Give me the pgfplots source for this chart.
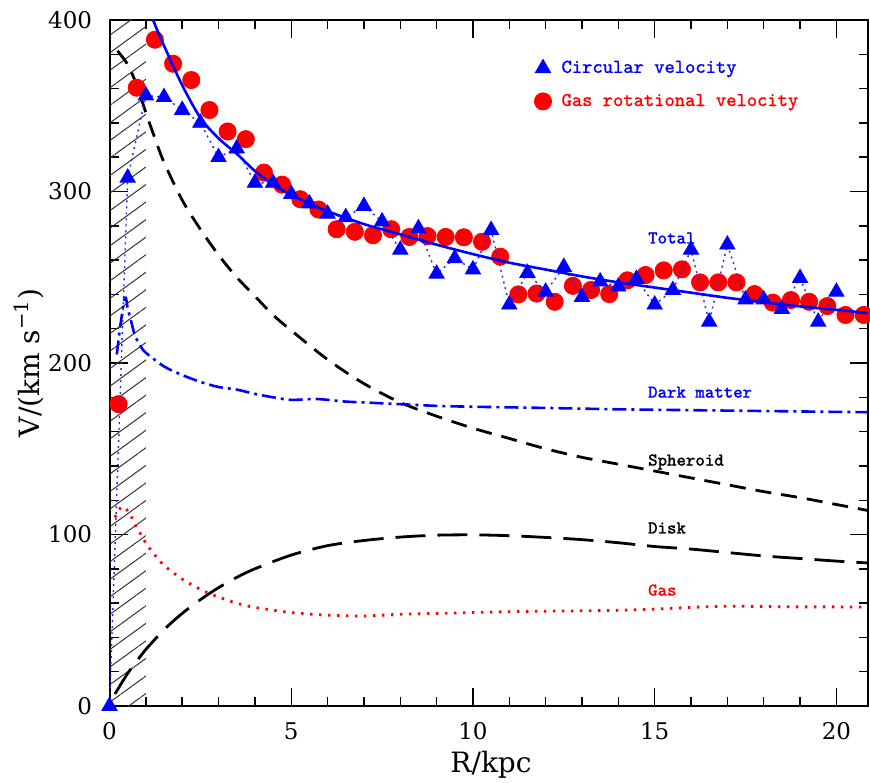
\documentclass[border=0pt]{standalone}
\usepackage{fontspec}
\setmainfont{DejaVu Serif}
\newfontfamily\lblfont{Latin Modern Mono}[FakeBold=1.2]
\usepackage{pgfplots}
\pgfplotsset{compat=1.18}
\usetikzlibrary{patterns.meta}
\definecolor{vblue}{RGB}{0,0,255}
\definecolor{vred}{RGB}{255,0,0}

\pgfplotstableread{
R V
0 0
0.5 308
1.0 356
1.5 355
2.0 347.5
2.5 340
3.0 320
3.5 325
4.0 305
4.5 305
5.0 298.5
5.5 293
6.0 287
6.5 285
7.0 291.5
7.5 282.5
8.0 266
8.5 278.5
9.0 252
9.5 261
10.0 254.5
10.5 277.5
11.0 234
11.5 252.5
12.0 241.5
12.5 256
13.0 238.5
13.5 247.5
14.0 244.5
14.5 249
15.0 234
15.5 242.5
16.0 266
16.5 224
17.0 269
17.5 237
18.0 237
18.5 231.5
19.0 249.5
19.5 224
20.0 241.5
}\circvel

\pgfplotstableread{
R V
0.25 176
0.75 360.5
1.25 388.5
1.75 374.5
2.25 365
2.75 347.5
3.25 335
3.75 330.5
4.25 311
4.75 304
5.25 295.5
5.75 289.5
6.25 278
6.75 276.5
7.25 274.5
7.75 278
8.25 273.5
8.75 274
9.25 273.5
9.75 273.3
10.25 270.7
10.75 262
11.25 240
11.75 240.5
12.25 235.7
12.75 245
13.25 242.6
13.75 240.2
14.25 248.2
14.75 251.3
15.25 254
15.75 254.6
16.25 247
16.75 247
17.25 247
17.75 240.2
18.25 235.2
18.75 236.7
19.25 235.7
19.75 233.2
20.25 228
20.75 228
}\gasvel

\pgfplotstableread{
R V
1.1 407
1.2 400
1.5 385
2 362
2.5 343
3 331
3.5 322
4 312
4.5 304
5 298
5.5 293
6 288.5
7 281
8 275
9 269
10 263.5
11 258.5
12 254.5
13 250.5
14 247
15 244
16 241
17 238
18 235.5
19 233
20 231
20.87 229
}\total

\pgfplotstableread{
R V
0.2 205
0.3 222
0.4 236
0.45 238
0.5 232
0.6 224
0.7 216
0.85 210
1.0 206
1.5 198
2 193
2.5 189
3 186
3.5 184.5
4 182
4.5 180
5 178.5
5.7 179
6.5 177.5
7 177
8 176
9 175
10 174.5
12 173.8
14 173
16 172.5
18 172
20 171.5
20.87 171.3
}\darkmatter

\pgfplotstableread{
R V
0.22 382
0.5 374
0.75 362
1.0 346
1.25 331
1.5 317
2 295
2.5 278
3 263
3.5 250
4 239
4.5 228
5 219
6 202
7 188
8 177
9 169
10 162
11 156
12 150
13 145
14 141
15 137
16 133
17 129
18 125
19 121.5
20 117.5
20.87 114
}\spheroid

\pgfplotstableread{
R V
0.15 7
0.25 10.5
0.5 19
0.85 29
1.0 33
1.5 44.5
2 54
2.5 62
3 69
3.5 75
4 80
5 88
6 93.5
7 96.5
8 98.5
9 99.6
10 99.8
11 99.3
12 98.3
13 97
14 95.2
15 93
16 91.5
17 89.5
18 87.5
19 86
20 84.5
20.87 83.4
}\disk

\pgfplotstableread{
R V
0.15 110
0.3 115.5
0.4 116
0.55 112.5
0.7 106
0.85 100.5
1.0 95
1.25 88
1.5 82
2 74
2.5 68
3 63.5
3.5 60
4 57.5
5 54.5
6 53
7 52.5
8 53.5
9 54
10 54.5
11 55
12 55.3
13 55.5
14 55.8
15 56.5
16 57.5
17 58.2
18 58
19 57.8
20 57.8
20.87 57.7
}\gas

\begin{document}
\begin{tikzpicture}
\begin{axis}[
  scale only axis, width=379.25pt, height=343pt,
  xmin=0, xmax=20.87, ymin=0, ymax=400,
  xtick={0,5,10,15,20}, ytick={0,100,200,300,400},
  minor x tick num=4, minor y tick num=4,
  tick align=inside, xtick pos=both, ytick pos=both,
  major tick length=9pt, minor tick length=4.5pt,
  every tick/.style={black, line width=0.7pt},
  axis line style={line width=1pt},
  /pgf/number format/assume math mode=true,
  tick label style={font=\fontsize{11.5}{13}\selectfont},
  xticklabel style={yshift=-4.7pt},
  yticklabel style={xshift=-5.2pt},
  xlabel={R/kpc},
  ylabel={V/(km s\textsuperscript{\char"2212 1})},
  label style={font=\fontsize{14}{16}\selectfont},
  xlabel style={at={(axis description cs:0.503,-0.0962)}, anchor=base},
  ylabel style={at={(axis description cs:-0.1061,0.5)}, anchor=center},
  clip mode=individual,
  legend cell align=left,
  legend style={at={(axis cs:11.68,362.2)}, anchor=west, draw=none, fill=none,
    inner sep=0pt, font=\fontsize{9.8}{11}\lblfont, row sep=5pt,
    /tikz/every odd column/.append style={column sep=3pt}},
]
\addlegendimage{only marks, mark=triangle*, mark size=4.4pt, color=vblue}
\addlegendentry{\textcolor{vblue}{Circular velocity}}
\addlegendimage{only marks, mark=*, mark size=4.3pt, color=vred}
\addlegendentry{\textcolor{vred}{Gas rotational velocity}}

% hatched inner region
\addplot[draw=none, pattern={Lines[angle=36,distance=7.1pt,line width=0.5pt]},
  pattern color=black!80, forget plot] coordinates {(0,400) (1,400)} \closedcycle;

% components
\addplot[black, line width=1.4pt, dash pattern=on 8pt off 5pt, smooth, forget plot] table {\spheroid};
\addplot[black, line width=1.4pt, dash pattern=on 15pt off 6pt, smooth, forget plot] table {\disk};
\addplot[vblue, line width=1.3pt, dash pattern=on 7pt off 2.5pt on 1.5pt off 2.5pt, smooth, forget plot] table {\darkmatter};
\addplot[vred, line width=1.4pt, dash pattern=on 1.2pt off 3.3pt, smooth, forget plot] table {\gas};

% observed
\addplot[only marks, mark=*, mark size=4.3pt, color=vred, forget plot] table {\gasvel};
\addplot[vblue!85, line width=0.7pt, dash pattern=on 1pt off 2pt, forget plot] table {\circvel};
\addplot[only marks, mark=triangle*, mark size=4.4pt, color=vblue, forget plot] table {\circvel};
\addplot[vblue, line width=1.3pt, smooth, forget plot] table {\total};

% curve labels
\begin{scope}[every node/.style={anchor=west, inner sep=0pt, font=\fontsize{9}{10}\lblfont}]
\node[text=vblue] at (axis cs:14.81,272.9) {Total};
\node[text=vblue] at (axis cs:14.81,183) {Dark matter};
\node[text=black] at (axis cs:14.81,142.3) {Spheroid};
\node[text=black] at (axis cs:14.81,103.8) {Disk};
\node[text=vred] at (axis cs:14.81,67.6) {Gas};
\end{scope}
\end{axis}
\pgfresetboundingbox
\path[use as bounding box] (-54.75pt,-38pt) rectangle (380.25pt,353pt);
\end{tikzpicture}
\end{document}
